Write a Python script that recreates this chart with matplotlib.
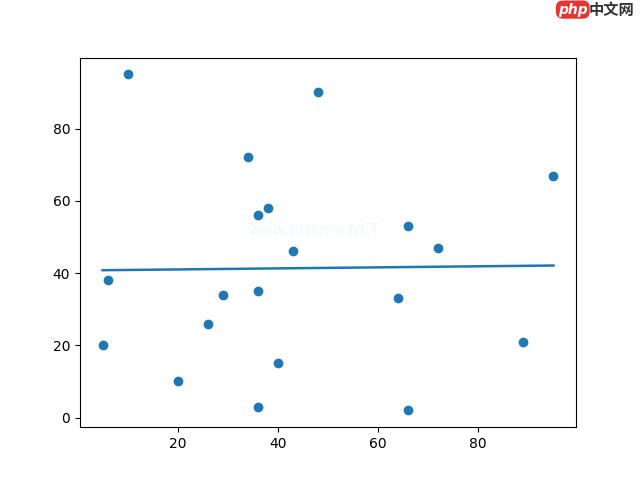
import matplotlib
matplotlib.use("Agg")
import matplotlib.pyplot as plt

x = [10, 48, 34, 36, 38, 95, 66, 43, 72, 6, 36, 29, 64, 26, 5, 89, 20, 40, 36, 66]
y = [95, 90, 72, 56, 58, 67, 53, 46, 47, 38, 35, 34, 33, 26, 20, 21, 10, 15, 3, 2]
line_x = [5, 95]
line_y = [40.8, 42.1]

fig = plt.figure(figsize=(6.4, 4.8), dpi=100)
ax = fig.add_subplot(111)
ax.scatter(x, y)
ax.plot(line_x, line_y, linewidth=1.8)

fig.text(0.49, 0.52, "www.pHome.NET", color="#eef9fa", fontsize=11,
         ha="center", va="center")
fig.text(0.895, 0.98, "php", color="white", fontsize=10, fontweight="bold",
         ha="center", va="center", style="italic",
         bbox=dict(boxstyle="round,pad=0.15,rounding_size=0.5", fc="#e8332e", ec="none"))
fig.text(0.92, 0.98, "中文网", color="#333333", fontsize=11, ha="left", va="center",
         family=["Noto Sans CJK SC", "DejaVu Sans"], fontweight="bold")

fig.savefig("out.png", dpi=100)
